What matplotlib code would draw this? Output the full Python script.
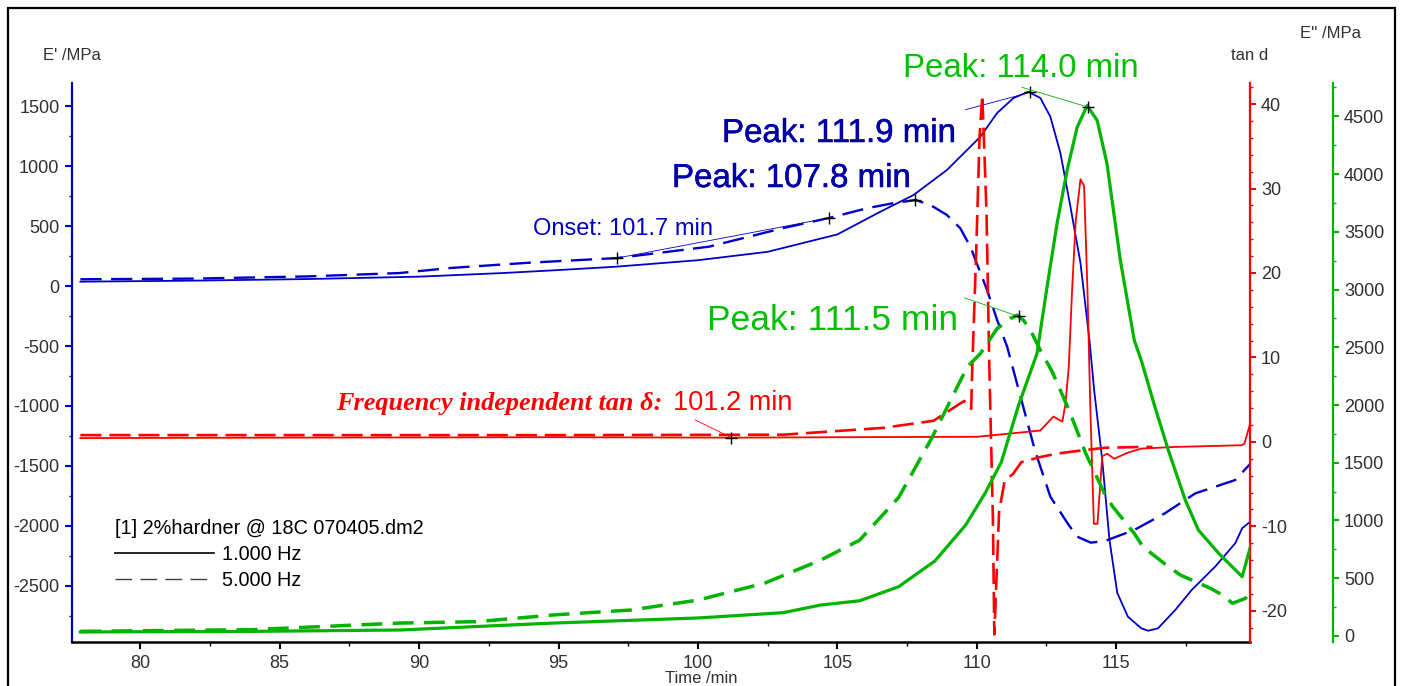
import numpy as np
import matplotlib.pyplot as plt
import matplotlib.patheffects as pe
from matplotlib.lines import Line2D
from matplotlib.patches import Rectangle
from matplotlib.ticker import MultipleLocator

plt.rcParams['font.family'] = ['Liberation Sans', 'DejaVu Sans']
plt.rcParams['axes.unicode_minus'] = False

# E' storage modulus /MPa
e1_time = [77.85, 82, 86, 90, 93, 95, 97, 100, 102.5, 105, 106.54, 107.73, 108.93, 110.13,
           110.73, 111.32, 111.85, 112.28, 112.64, 113.0, 113.36, 113.72, 114.05, 114.21,
           114.5, 114.76, 115.04, 115.42, 115.9, 116.15, 116.5, 117.12, 117.71, 118.55,
           119.27, 119.52, 119.88]
e1_val = [36, 45, 58, 78, 108, 133, 160, 215, 285, 430, 619, 758, 967, 1244,
          1442, 1567, 1619, 1567, 1411, 1108, 661, 192, -470, -867,
          -1450, -2117, -2558, -2756, -2853, -2873, -2853, -2700, -2533, -2339,
          -2144, -2019, -1950]
e5_time = [77.85, 82, 86, 89.3, 91.1, 94, 97.1, 100.4, 103.06, 104.7, 106.1, 107, 107.8,
           108.34, 108.93, 109.41, 109.77, 110.0, 110.37, 110.73, 111.09, 111.5, 112.09,
           112.64, 113.25, 113.6, 114.09, 114.6, 115.65, 116.75, 117.84, 119.27, 119.88]
e5_val = [56, 62, 80, 108, 150, 195, 233, 328, 483, 567, 650, 690, 717,
          675, 592, 481, 328, 189, -33, -283, -506, -862, -1373,
          -1756, -1975, -2089, -2139, -2125, -2033, -1894, -1728, -1617, -1464]

# tan delta
t1_time = [77.85, 85, 95, 101.2, 105, 110, 111.85, 112.28, 112.75, 113.07, 113.18, 113.3,
           113.42, 113.55, 113.72, 113.85, 113.97, 114.07, 114.2, 114.33, 114.5, 114.68,
           114.93, 115.4, 115.9, 117.1, 119.5, 119.6, 119.88]
t1_val = [0.45, 0.5, 0.55, 0.5, 0.55, 0.6, 1.2, 1.35, 3.0, 2.4, 4.5, 8.9,
          18.0, 26.2, 31.1, 30.3, 18.0, 4.4, -9.7, -9.7, -1.7, -1.4,
          -2.0, -1.3, -0.8, -0.6, -0.4, -0.2, 3.0]
t5_time = [77.85, 85, 95, 103.06, 106.65, 108.45, 109.55, 109.8, 109.84, 109.98, 110.1,
           110.2, 110.35, 110.45, 110.58, 110.63, 110.8, 111.0, 111.3, 111.6, 112.28,
           112.85, 113.8, 114.6, 115.9, 116.3]
t5_val = [0.8, 0.8, 0.8, 0.85, 1.66, 2.5, 4.85, 3.9, 8.9, 22.5, 36.1,
          41.1, 27.1, 8.9, -9.2, -22.8, -8.3, -4.6, -3.8, -2.4, -1.8,
          -1.4, -1.0, -0.7, -0.6, -0.6]

# E'' loss modulus /MPa
g1_time = [77.85, 84, 89.33, 94.8, 100, 103.06, 104.4, 105.8, 107.2, 108.5, 109.6, 110.3,
           110.88, 111.5, 112.16, 112.52, 112.88, 113.24, 113.6, 113.96, 114.32, 114.67,
           115.15, 115.65, 115.9, 116.39, 116.87, 117.48, 117.95, 118.68, 119.52, 119.88]
g1_val = [35, 40, 52, 112, 156, 202, 268, 305, 427, 650, 960, 1237,
          1505, 1998, 2445, 3021, 3572, 4031, 4405, 4593, 4463, 4091,
          3252, 2560, 2387, 1983, 1609, 1176, 917, 715, 513, 830]
g5_time = [77.85, 84, 89.33, 92.07, 94.8, 97.6, 100, 102.4, 104.4, 105.8, 107.2, 108.4,
           109.66, 110.13, 110.73, 111.2, 111.45, 111.68, 111.93, 112.28, 112.71, 113.31,
           113.91, 114.58, 114.88, 115.65, 115.96, 116.8, 117.3, 118.38, 118.81, 119.17,
           119.64, 119.89]
g5_val = [40, 55, 112, 124, 182, 225, 311, 458, 657, 830, 1200, 1720,
          2331, 2445, 2662, 2748, 2777, 2733, 2647, 2474, 2286, 1955,
          1580, 1234, 1119, 888, 772, 614, 528, 413, 355, 283,
          326, 441]

BLUE = '#0000c8'
NAVY = '#0000a8'
RED = '#ff0000'
GREEN = '#00b400'
TXT = '#303030'

W, H = 1401, 686
fig = plt.figure(figsize=(W / 100, H / 100), dpi=100)


def fx(px):
    return px / W


def fy(py):
    return 1 - py / H


ax = fig.add_axes([fx(72), fy(642), fx(1250) - fx(72), fy(83) - fy(642)])
ax.set_xlim(77.55, 119.8)
ax.set_ylim(-2967, 1692)
for s in ['top', 'right']:
    ax.spines[s].set_visible(False)
ax.spines['left'].set_color(BLUE)
ax.spines['left'].set_linewidth(1.6)
ax.spines['bottom'].set_linewidth(1.8)
ax.xaxis.set_major_locator(MultipleLocator(5))
ax.xaxis.set_minor_locator(MultipleLocator(2.5))
ax.yaxis.set_major_locator(MultipleLocator(500))
ax.yaxis.set_minor_locator(MultipleLocator(250))
ax.tick_params(axis='y', which='major', color=BLUE, length=5, width=1.5, labelsize=13,
               labelcolor=TXT, pad=4)
ax.tick_params(axis='y', which='minor', color=BLUE, length=2.5, width=1)
ax.tick_params(axis='x', which='major', length=5, width=1.5, labelsize=13,
               labelcolor=TXT, pad=4)
ax.tick_params(axis='x', which='minor', length=3, width=1)

ax_t = ax.twinx()
ax_t.set_ylim(-23.7, 42.5)
for s in ['top', 'left', 'bottom']:
    ax_t.spines[s].set_visible(False)
ax_t.spines['right'].set_color(RED)
ax_t.spines['right'].set_linewidth(1.6)
ax_t.yaxis.set_major_locator(MultipleLocator(10))
ax_t.yaxis.set_minor_locator(MultipleLocator(2))
ax_t.tick_params(axis='y', which='major', color=RED, length=4, width=1.5, labelsize=13,
                 labelcolor=TXT, pad=4)
ax_t.tick_params(axis='y', which='minor', color=RED, length=2.5, width=1)

ax_g = ax.twinx()
ax_g.set_ylim(-52, 4788)
for s in ['top', 'left', 'bottom']:
    ax_g.spines[s].set_visible(False)
ax_g.spines['right'].set_position(('axes', 1 + 83 / 1178))
ax_g.spines['right'].set_color(GREEN)
ax_g.spines['right'].set_linewidth(1.6)
ax_g.yaxis.set_major_locator(MultipleLocator(500))
ax_g.yaxis.set_minor_locator(MultipleLocator(250))
ax_g.tick_params(axis='y', which='major', color=GREEN, length=4, width=1.5, labelsize=13,
                 labelcolor=TXT, pad=4)
ax_g.tick_params(axis='y', which='minor', color=GREEN, length=2.5, width=1)

# curves
ax.plot(e1_time, e1_val, color=BLUE, lw=1.3)
ax.plot(e5_time, e5_val, color=BLUE, lw=1.7, dashes=(9, 4))
ax_t.plot(t1_time, t1_val, color=RED, lw=1.3)
ax_t.plot(t5_time, t5_val, color=RED, lw=1.9, dashes=(8, 3))
ax_g.plot(g1_time, g1_val, color=GREEN, lw=2.3)
ax_g.plot(g5_time, g5_val, color=GREEN, lw=2.5, dashes=(6, 3))

# markers and leader lines
pk = dict(marker='+', color='black', ms=9, mew=1, ls='none', zorder=5)
e_pk1 = np.interp(111.9, e1_time, e1_val)
e_pk5 = np.interp(107.8, e5_time, e5_val)
ax.plot([109.6, 111.9], [1470, e_pk1], color=BLUE, lw=0.6)
ax.plot([111.9], [e_pk1], **pk)
ax.plot([107.8], [e_pk5], **pk)
on_t = [97.1, 104.7]
on_v = np.interp(on_t, e5_time, e5_val)
ax.plot(on_t, on_v, color=BLUE, lw=0.6)
ax.plot(on_t, on_v, **pk)

t_on = np.interp(101.2, t1_time, t1_val)
ax_t.plot([99.9, 101.2], [2.6, t_on], color=RED, lw=0.6)
ax_t.plot([101.2], [t_on], **pk)

g_pk1 = np.interp(114.0, g1_time, g1_val)
g_pk5 = np.interp(111.5, g5_time, g5_val)
ax_g.plot([111.62, 114.0], [4751, g_pk1], color=GREEN, lw=0.6)
ax_g.plot([114.0], [g_pk1], **pk)
ax_g.plot([109.56, 111.5], [2928, g_pk5], color=GREEN, lw=0.6)
ax_g.plot([111.5], [g_pk5], **pk)

# annotations
thick = [pe.withStroke(linewidth=0.4, foreground=NAVY)]
fig.text(fx(903), fy(77), 'Peak: 114.0 min', color='#00c000', fontsize=23.8, va='baseline')
fig.text(fx(722), fy(142), 'Peak: 111.9 min', color=NAVY, fontsize=23.8,
         va='baseline', path_effects=thick)
fig.text(fx(672), fy(187), 'Peak: 107.8 min', color=NAVY, fontsize=23.8,
         va='baseline', path_effects=thick)
fig.text(fx(533), fy(235), 'Onset: 101.7 min', color=BLUE, fontsize=17, va='baseline')
fig.text(fx(707), fy(330), 'Peak: 111.5 min', color='#00c000', fontsize=25.5, va='baseline')
fig.text(fx(336), fy(410), 'Frequency independent tan \u03b4:', color=RED, fontsize=18.9,
         family='Liberation Serif', fontweight='bold', fontstyle='italic', va='baseline')
fig.text(fx(673), fy(410), '101.2 min', color=RED, fontsize=19.5, va='baseline')

# axis titles
fig.text(fx(43), fy(60), "E' /MPa", color=TXT, fontsize=12, va='baseline')
fig.text(fx(1231), fy(60), 'tan d', color=TXT, fontsize=12, va='baseline')
fig.text(fx(1300), fy(38), "E'' /MPa", color=TXT, fontsize=12, va='baseline')
fig.text(fx(701), fy(683), 'Time /min', color=TXT, fontsize=12, va='baseline', ha='center')

# legend
handles = [Line2D([], [], color='black', lw=1.2),
           Line2D([], [], color='#404040', lw=1.0, dashes=(12, 6))]
leg = ax.legend(handles, ['1.000 Hz', '5.000 Hz'], title='[1] 2%hardner @ 18C 070405.dm2',
                loc='upper left', bbox_to_anchor=(fx(115), fy(519)),
                bbox_transform=fig.transFigure, frameon=False, fontsize=14.3,
                title_fontsize=14.3, handlelength=5.0, handletextpad=0.4,
                labelspacing=0.36, borderpad=0, borderaxespad=0, alignment='left')

# outer frame
fig.patches.append(Rectangle((fx(8), -0.1), fx(1395) - fx(8), fy(8) + 0.1,
                             transform=fig.transFigure, fill=False, ec='black', lw=1.6))

fig.savefig('out.png', dpi=100)
